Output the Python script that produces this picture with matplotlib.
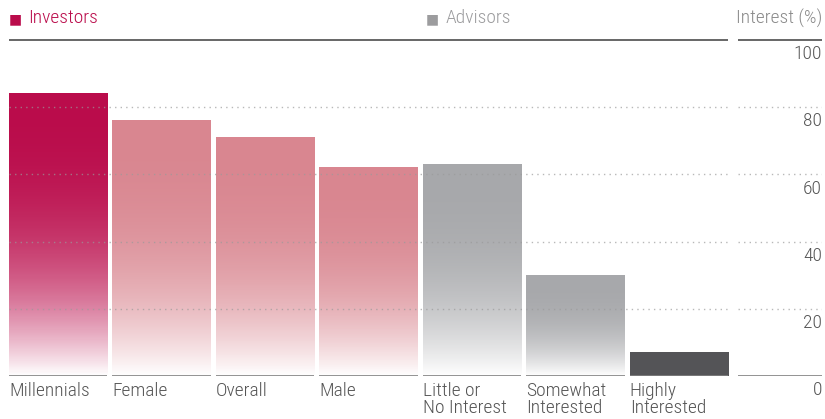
import numpy as np
import matplotlib
matplotlib.use("Agg")
import matplotlib.pyplot as plt
from matplotlib.colors import to_rgb

plt.rcParams["font.family"] = ["Roboto Condensed", "DejaVu Sans"]
plt.rcParams["font.weight"] = "light"

categories = ["Millennials", "Female", "Overall", "Male",
              "Little or\nNo Interest", "Somewhat\nInterested", "Highly\nInterested"]
values = [84, 76, 71, 62, 63, 30, 7]
yticks = [0, 20, 40, 60, 80, 100]

CRIMSON, PINK, GREY, DARK = "#BA0C4B", "#D98690", "#A7A8AB", "#555557"
bar_colors = [CRIMSON, PINK, PINK, PINK, GREY, GREY, DARK]
fades = [True, True, True, True, True, True, False]
TXT = "#555555"

W, H = 825, 419
fig = plt.figure(figsize=(W / 100, H / 100), dpi=100)
bot, top = 1 - 376 / H, 1 - 40 / H
ax = fig.add_axes([9 / W, bot, 719 / W, top - bot])
axr = fig.add_axes([738 / W, bot, 84 / W, top - bot])

bw = 0.95
ax.set_xlim(-bw / 2, len(values) - 1 + bw / 2)
for a in (ax, axr):
    a.set_ylim(0, 100)
    a.axis("off")
axr.set_xlim(0, 1)

ramp = np.linspace(0, 1, 256)[:, None]
for i, (v, c, fd) in enumerate(zip(values, bar_colors, fades)):
    rgb = np.array(to_rgb(c))
    f = 1 - (1 - ramp) ** 2.6 if fd else np.ones_like(ramp)
    img = 1 - f[..., None] * (1 - rgb[None, None, :])
    img = np.repeat(img, 2, axis=1)
    ax.imshow(img, extent=(i - bw / 2, i + bw / 2, 0, v), origin="lower",
              aspect="auto", zorder=1, interpolation="nearest")
    ax.plot([i - bw / 2, i + bw / 2], [0, 0], color="#808080", lw=1.2,
            zorder=3, solid_capstyle="butt")
    ax.text(i - bw / 2, -1.8, categories[i], ha="left", va="top",
            fontsize=14, color=TXT, linespacing=0.9)

# dotted gridlines drawn over bars
for t in yticks[1:-1]:
    for a in (ax, axr):
        a.axhline(t, color="#9a9a9a", lw=1.0, ls=(0, (1, 3)), alpha=0.7, zorder=4)
axr.plot([0, 1], [0, 0], color="#808080", lw=1.2, solid_capstyle="butt")
for a in (ax, axr):
    a.plot(a.get_xlim(), [100, 100], color="#5a5a5a", lw=1.3, clip_on=False,
           solid_capstyle="butt")

for t in yticks:
    axr.text(1, t - 4.2, str(t), ha="right", va="center", fontsize=14, color=TXT)

# headers
sq = dict(ha="left", va="center", fontsize=10, family=["DejaVu Sans"], fontweight="normal")
fig.text(9 / W, 1 - 19 / H, "\u25A0", color=CRIMSON, **sq)
fig.text(28 / W, 1 - 18 / H, "Investors", ha="left", va="center", fontsize=14, color=CRIMSON)
fig.text(426 / W, 1 - 19 / H, "\u25A0", color="#9c9c9e", **sq)
fig.text(446 / W, 1 - 18 / H, "Advisors", ha="left", va="center", fontsize=14, color="#9c9c9e")
fig.text(822 / W, 1 - 18 / H, "Interest (%)", ha="right", va="center", fontsize=14, color="#8a8a8a")

fig.savefig("out.png", dpi=100)
